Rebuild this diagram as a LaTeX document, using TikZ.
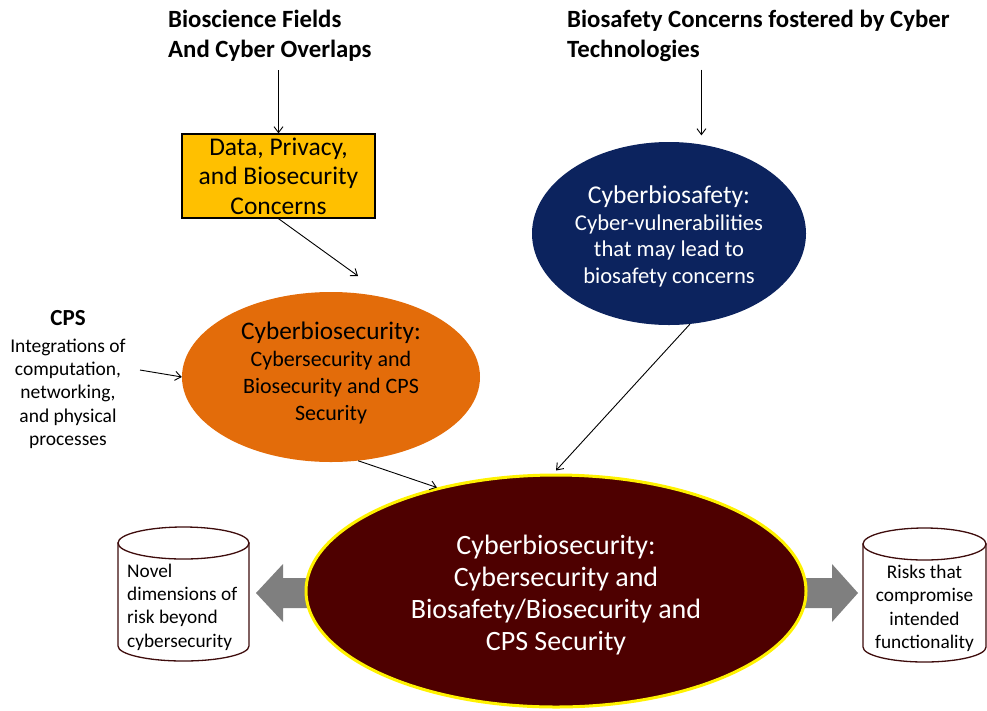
\documentclass[tikz,border=0pt]{standalone}
\usepackage{fontspec}
\setmainfont{Carlito}
\usetikzlibrary{arrows.meta,shapes.geometric}

\definecolor{goldbox}{RGB}{255,192,0}
\definecolor{orangeoval}{RGB}{227,108,10}
\definecolor{navyoval}{RGB}{12,35,94}
\definecolor{maroonoval}{RGB}{78,0,0}
\definecolor{drumedge}{RGB}{62,12,12}
\definecolor{blockgray}{RGB}{127,127,127}

\newcommand\setfs[2]{\fontsize{#1}{#2}\selectfont}

\begin{document}
\begin{tikzpicture}[x=1pt,y=-1pt,
  conn/.style={draw=black, line width=0.9pt, -{Straight Barb[length=6pt,width=9pt]}},
  oval/.style={ellipse, inner sep=0pt},
  ovaltext/.style={inner sep=0pt, align=center},
  heading/.style={inner sep=0pt, align=left, font=\bfseries\setfs{24.8}{30}},
  drumline/.style={draw=drumedge, line width=1.3pt, fill=white},
  drumtext/.style={inner sep=0pt, font=\setfs{19.3}{23.3}},
  blockarrow/.style={fill=blockgray}]
\useasboundingbox (0,0) rectangle (987,710);

% headings
\node[heading, anchor=north west] (tA) at (168,9.5) {Bioscience Fields\\And Cyber Overlaps};
\node[heading, anchor=north west] (tB) at (567,9.5) {Biosafety Concerns fostered by Cyber\\Technologies};

% data / privacy box
\node[draw=black, fill=goldbox, line width=1.3pt, minimum width=193, minimum height=84,
      inner sep=0pt, align=center, font=\setfs{25.5}{29.5}] (dpb) at (278.5,176)
      {Data, Privacy,\\and Biosecurity\\Concerns};

% orange oval
\node[oval, fill=orangeoval, minimum width=298, minimum height=170] (cbs) at (331,377) {};
\node[ovaltext, font=\setfs{22}{26.7}] (cbsText) at (331,373)
      {{\setfs{25.3}{26.7}Cyberbiosecurity:}\\Cybersecurity and\\Biosecurity and CPS\\Security};

% navy oval
\node[oval, fill=navyoval, minimum width=274, minimum height=183] (cbsf) at (669,233.5) {};
\node[ovaltext, text=white, font=\setfs{22.6}{26.5}] (cbsfText) at (669,236.5)
      {{\setfs{25.6}{26.5}Cyberbiosafety:}\\Cyber-vulnerabilities\\that may lead to\\biosafety concerns};

% CPS note
\node[inner sep=0pt, align=center, anchor=north, font=\setfs{19.5}{23.3}] (cps) at (68,310)
      {{\bfseries\setfs{23}{23.3}CPS}\\[3.7pt]Integrations of\\computation,\\networking,\\and physical\\processes};

% block arrows leaving the central oval
\coordinate (ltip) at (256,593);
\coordinate (rtip) at (858,593);
\fill[blockarrow] (ltip) -- ++(27,-29) -- ++(0,14) -- ++(60,0) -- ++(0,30) -- ++(-60,0) -- ++(0,14) -- cycle;
\fill[blockarrow] (rtip) -- ++(-26,-29) -- ++(0,14) -- ++(-60,0) -- ++(0,30) -- ++(60,0) -- ++(0,14) -- cycle;

% central oval
\node[oval, fill=maroonoval, draw=yellow, line width=3pt, minimum width=500,
      minimum height=232] (cbr) at (556,591) {};
\node[ovaltext, text=white, font=\setfs{28}{32.3}] (cbrText) at (556,595)
      {Cyberbiosecurity:\\Cybersecurity and\\Biosafety/Biosecurity and\\CPS Security};

% left drum
\filldraw[drumline] (118,543) -- (118,646) arc[start angle=180, end angle=0, x radius=65.5, y radius=15] -- (249,543) -- cycle;
\filldraw[drumline] (183.5,543) ellipse[x radius=65.5, y radius=16];
\node[drumtext, anchor=north west, align=left] (novel) at (127,563.5)
      {Novel\\dimensions of\\risk beyond\\cybersecurity};

% right drum
\filldraw[drumline] (863,544) -- (863,647) arc[start angle=180, end angle=0, x radius=61.5, y radius=15] -- (986,544) -- cycle;
\filldraw[drumline] (924.5,544) ellipse[x radius=61.5, y radius=16];
\node[drumtext, anchor=north, align=center] (risks) at (924.5,565)
      {Risks that\\compromise\\intended\\functionality};

% connectors
\coordinate (dpbIn) at (358,276);
\coordinate (cpsOut) at (140,370);
\draw[conn, shorten <=9pt] (tA.south -| dpb.north) -- (dpb.north);
\draw[conn] (dpb.south) -- (dpbIn);
\draw[conn] (cpsOut) -- (cbs.west);
\draw[conn] (cbs.288) -- (cbr.139.5);
\draw[conn, shorten <=8pt] (tB.south -| cbsf.70) -- ([yshift=9pt]cbsf.70);
\draw[conn] (cbsf.283) -- ([yshift=3pt]cbr.north);
\end{tikzpicture}
\end{document}
